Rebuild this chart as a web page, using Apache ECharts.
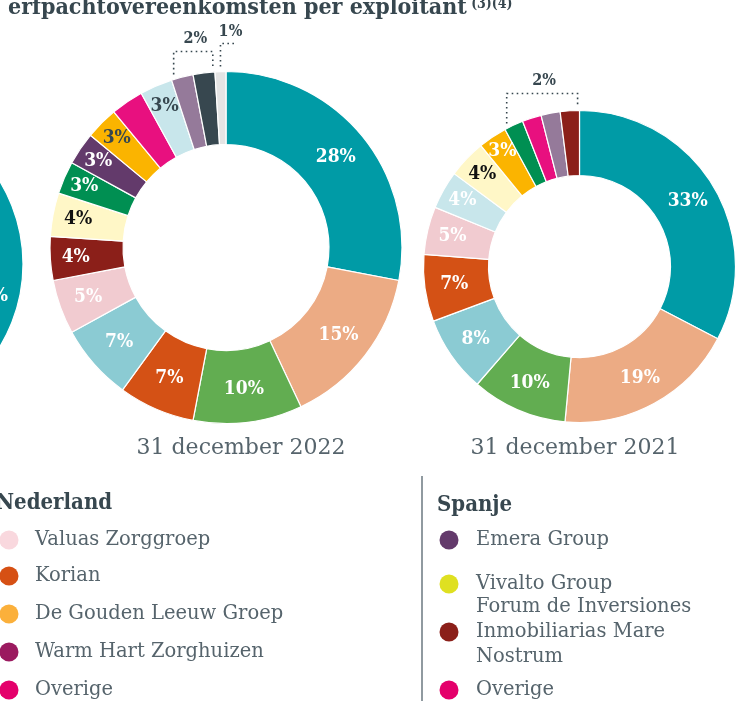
<!DOCTYPE html>
<html lang="nl">
<head>
    <meta charset="UTF-8">
    <title>Erfpachtovereenkomsten per exploitant</title>
    <script src="https://cdn.jsdelivr.net/npm/echarts@6/dist/echarts.min.js"></script>
    <style>
        html, body { margin: 0; padding: 0; background: #fff; }
        #main { width: 750px; height: 701px; }
    </style>
</head>
<body>
<div id="main"></div>
<script>
// ---- data ----
var titleText = 'erfpachtovereenkomsten per exploitant';
var titleNote = '(3)(4)';

// 31 december 2022 (rechtsom vanaf 12 uur)
var values2022 = [28, 15, 10, 7, 7, 5, 4, 4, 3, 3, 3, 3, 3, 2, 2, 1];
var colors2022 = ['#009ba6', '#ecab84', '#62ad51', '#d45115', '#8bcbd3', '#f1cbd0', '#8b1f19', '#fff7c7',
                  '#008f52', '#633a6b', '#fbb400', '#e8107f', '#c8e6eb', '#957a9a', '#37474f', '#e4e4e4'];
var labelColors2022 = ['#fff', '#fff', '#fff', '#fff', '#fff', '#fff', '#fff', '#111',
                       '#fff', '#fff', '#37474f', '#fff', '#37474f', '#fff', '#fff', '#fff'];
var noLabel2022 = [13, 14, 15];

// 31 december 2021
var values2021 = [33, 19, 10, 8, 7, 5, 4, 4, 3, 2, 2, 2, 2];
var colors2021 = ['#009ba6', '#ecab84', '#62ad51', '#8bcbd3', '#d45115', '#f1cbd0', '#c8e6eb', '#fff7c7',
                  '#fbb400', '#008f52', '#e8107f', '#957a9a', '#8b1f19'];
var labelColors2021 = ['#fff', '#fff', '#fff', '#fff', '#fff', '#fff', '#fff', '#111',
                       '#fff', '#fff', '#fff', '#fff', '#fff'];
var noLabel2021 = [9, 10, 11, 12];

// linker donut, grotendeels buiten beeld
var valuesLeft = [58, 42];
var colorsLeft = ['#009ba6', '#ecab84'];

var captions = ['31 december 2022', '31 december 2021'];

// los getoonde percentages boven de kleine segmenten
var notes2022 = [{from: 13, to: 14, text: '2%'}, {at: 15, text: '1%'}];
var notes2021 = [{from: 9, to: 12, text: '2%'}];

var nlTitle = 'Nederland';
var nlNames = ['Valuas Zorggroep', 'Korian', 'De Gouden Leeuw Groep', 'Warm Hart Zorghuizen', 'Overige'];
var nlColors = ['#f9d8de', '#d65014', '#fbb03b', '#9b1a5f', '#e4006b'];
var esTitle = 'Spanje';
var esNames = ['Emera Group', 'Vivalto Group', 'Forum de Inversiones\nInmobiliarias Mare\nNostrum', 'Overige'];
var esColors = ['#633a6b', '#dfe021', '#8b1f19', '#e4006b'];

// ---- layout ----
var pie2022 = {cx: 226, cy: 247.5, r0: 103, r: 176, rise: 20};
var pie2021 = {cx: 579.5, cy: 266.5, r0: 91, r: 156, rise: 17};
var pieLeft = {cx: -136, cy: 264, r0: 91, r: 159};
var nlRows = [540, 576, 614, 652, 690];
var esRows = [540, 584, 632, 690];

var SLAB = '"DejaVu Serif Condensed", "DejaVu Serif", serif';
var SERIF = '"DejaVu Serif", serif';
var DARK = '#37474f';
var TEXT = '#56646c';

function buildData(values, colors, labelColors, noLabel) {
    var total = values.reduce(function (a, b) { return a + b; }, 0);
    var cum = 0;
    return values.map(function (v, i) {
        var mid = (cum + v / 2) / total * 2 * Math.PI;
        cum += v;
        // kleine segmenten: label iets naar buiten schuiven
        var push = v < 6 ? (6 - v) * 4 : 0;
        return {
            value: v,
            itemStyle: {color: colors[i]},
            label: {
                show: noLabel.indexOf(i) < 0,
                color: labelColors ? labelColors[i] : '#fff',
                offset: [push * Math.sin(mid), -push * Math.cos(mid)]
            }
        };
    });
}

function pieSeries(p, data) {
    return {
        type: 'pie',
        center: [p.cx, p.cy],
        radius: [p.r0, p.r],
        startAngle: 90,
        clockwise: true,
        silent: true,
        animation: false,
        itemStyle: {borderColor: '#fff', borderWidth: 1.2},
        label: {
            position: 'inside',
            formatter: '{c}%',
            fontFamily: SLAB,
            fontWeight: 'bold',
            fontSize: 19
        },
        labelLine: {show: false},
        data: data
    };
}

function angleAt(values, upto) {
    var total = values.reduce(function (a, b) { return a + b; }, 0);
    var cum = 0;
    for (var i = 0; i < upto; i++) cum += values[i];
    return cum / total * 2 * Math.PI;
}

function edgeY(p, x) {
    var dx = x - p.cx;
    return p.cy - Math.sqrt(Math.max(0, p.r * p.r - dx * dx));
}

var dotted = {stroke: DARK, lineWidth: 1.6, lineDash: [1.6, 3.4], fill: null};

function noteGraphics(p, values, notes) {
    var out = [];
    var inset = 0.7 * Math.PI / 180;
    notes.forEach(function (n) {
        var lineY = p.cy - p.r - p.rise;
        if (n.at !== undefined) {
            var a = (angleAt(values, n.at) + angleAt(values, n.at + 1)) / 2;
            var x = p.cx + p.r * Math.sin(a);
            lineY -= 8;
            out.push({type: 'polyline', silent: true,
                shape: {points: [[x, edgeY(p, x) - 5], [x, lineY], [x + 16, lineY]]}, style: dotted});
            out.push(textEl(n.text, x + 10, lineY - 12, 'bold 16px ' + SLAB, DARK, 'center'));
        } else {
            var a0 = angleAt(values, n.from) + inset;
            var a1 = angleAt(values, n.to + 1) - inset;
            var x0 = p.cx + p.r * Math.sin(a0);
            var x1 = p.cx + p.r * Math.sin(a1);
            out.push({type: 'polyline', silent: true,
                shape: {points: [[x0, edgeY(p, x0) - 5], [x0, lineY], [x1, lineY], [x1, edgeY(p, x1) - 5]]},
                style: dotted});
            out.push(textEl(n.text, (x0 + x1) / 2 + 2, lineY - 12.5, 'bold 16px ' + SLAB, DARK, 'center'));
        }
    });
    return out;
}

function textEl(text, x, y, font, color, align) {
    return {
        type: 'text', silent: true,
        style: {
            text: text, x: x, y: y, font: font, fill: color,
            align: align, verticalAlign: 'middle',
            textAlign: align, textVerticalAlign: 'middle',
            lineHeight: 25
        }
    };
}

function legendGraphics(title, names, colors, rows, dotX, textX, titleX, titleY) {
    var out = [textEl(title, titleX, titleY, 'bold 22px ' + SLAB, DARK, 'left')];
    names.forEach(function (name, i) {
        out.push({type: 'circle', silent: true, shape: {cx: dotX, cy: rows[i], r: 9.5}, style: {fill: colors[i]}});
        out.push(textEl(name, textX, rows[i], '19.5px ' + SERIF, TEXT, 'left'));
    });
    return out;
}

var graphics = [];
graphics.push({
    type: 'text', silent: true,
    style: {
        text: '{t|' + titleText + '}{s| ' + titleNote + '}',
        x: 8, y: 8, verticalAlign: 'middle', textVerticalAlign: 'middle',
        rich: {
            t: {font: 'bold 23px ' + SLAB, fill: DARK, color: DARK, lineHeight: 26},
            s: {font: 'bold 14px ' + SLAB, fill: DARK, color: DARK, verticalAlign: 'top',
                lineHeight: 16, padding: [2, 0, 0, 0]}
        }
    }
});
graphics = graphics.concat(noteGraphics(pie2022, values2022, notes2022));
graphics = graphics.concat(noteGraphics(pie2021, values2021, notes2021));
graphics.push(textEl(captions[0], 241, 448, '22px ' + SERIF, TEXT, 'center'));
graphics.push(textEl(captions[1], 575, 448, '22px ' + SERIF, TEXT, 'center'));
graphics = graphics.concat(legendGraphics(nlTitle, nlNames, nlColors, nlRows, 9, 35, -4, 503));
graphics = graphics.concat(legendGraphics(esTitle, esNames, esColors, esRows, 449, 476, 437, 505));
graphics.push({type: 'line', silent: true, shape: {x1: 422, y1: 476, x2: 422, y2: 701},
    style: {stroke: '#6b7980', lineWidth: 1.5}});

var myChart = echarts.init(document.getElementById('main'), null, {renderer: 'canvas'});
myChart.setOption({
    backgroundColor: '#fff',
    animation: false,
    series: [
        pieSeries(pieLeft, buildData(valuesLeft, colorsLeft, null, [])),
        pieSeries(pie2022, buildData(values2022, colors2022, labelColors2022, noLabel2022)),
        pieSeries(pie2021, buildData(values2021, colors2021, labelColors2021, noLabel2021))
    ],
    graphic: graphics
});
</script>
</body>
</html>
